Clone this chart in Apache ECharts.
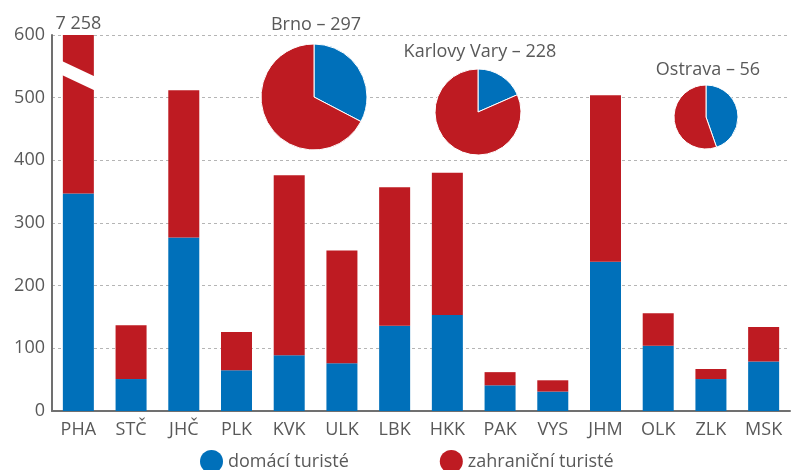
<!DOCTYPE html>
<html>
<head>
<meta charset="utf-8">
<script src="https://cdn.jsdelivr.net/npm/echarts@6/dist/echarts.min.js"></script>
<style>
  html, body { margin: 0; padding: 0; background: #fff; }
  #chart { width: 791px; height: 470px; }
</style>
</head>
<body>
<div id="chart"></div>
<script>
// kraje
const regions = ['PHA', 'STČ', 'JHČ', 'PLK', 'KVK', 'ULK', 'LBK', 'HKK', 'PAK', 'VYS', 'JHM', 'OLK', 'ZLK', 'MSK'];
// domácí / zahraniční turisté (tis.)
const domestic = [347, 51, 277, 65, 89, 76, 136, 153, 41, 31, 238, 104, 51, 79];
const foreign = [6911, 86, 235, 61, 287, 180, 221, 227, 21, 18, 266, 52, 16, 55];
const yTicks = [0, 100, 200, 300, 400, 500, 600];

// krajská města
const cities = ['Brno', 'Karlovy Vary', 'Ostrava'];
const cityDomestic = [97, 42, 25];
const cityForeign = [200, 186, 31];

const seriesNames = ['domácí turisté', 'zahraniční turisté'];
const BLUE = '#0070ba';
const RED = '#be1b22';
const TXT = '#595959';
const FONT = 'Open Sans';

const yMax = yTicks[yTicks.length - 1];
// PHA se nevejde -> useknout na max osy
const foreignShown = foreign.map((v, i) => Math.min(v, yMax - domestic[i]));
const totals = domestic.map((d, i) => d + foreign[i]);

const fmt = n => String(n).replace(/\B(?=(\d{3})+(?!\d))/g, ' ');

// rozložení koláčů (px)
const pieLayout = [
  {center: [314, 97], r: 53, title: [311, 11]},
  {center: [478, 112], r: 43, title: [475, 38]},
  {center: [706, 117], r: 32, title: [703, 56]}
];

const chart = echarts.init(document.getElementById('chart'));

const pieSeries = cities.map((c, i) => ({
  type: 'pie',
  name: c,
  center: pieLayout[i].center,
  radius: [0, pieLayout[i].r],
  startAngle: 90,
  clockwise: true,
  label: {show: false},
  labelLine: {show: false},
  silent: true,
  animation: false,
  itemStyle: {borderColor: '#fff', borderWidth: 1},
  data: [
    {name: seriesNames[0], value: cityDomestic[i], itemStyle: {color: BLUE}},
    {name: seriesNames[1], value: cityForeign[i], itemStyle: {color: RED}}
  ]
}));

const option = {
  animation: false,
  textStyle: {fontFamily: FONT},
  title: cities.map((c, i) => ({
    text: c + ' – ' + (cityDomestic[i] + cityForeign[i]),
    left: pieLayout[i].title[0],
    top: pieLayout[i].title[1],
    textAlign: 'center',
    textStyle: {color: TXT, fontSize: 18, fontWeight: 'normal', fontFamily: FONT}
  })),
  grid: {left: 52, right: 1, top: 35, bottom: 59},
  legend: {
    top: 445,
    left: 195,
    icon: 'circle',
    itemWidth: 23,
    itemHeight: 23,
    itemGap: 91,
    data: seriesNames,
    textStyle: {color: TXT, fontSize: 18, fontFamily: FONT}
  },
  xAxis: {
    type: 'category',
    data: regions,
    axisLine: {lineStyle: {color: '#707070', width: 2}},
    axisTick: {show: false},
    axisLabel: {color: TXT, fontSize: 18, margin: 10, fontFamily: FONT}
  },
  yAxis: {
    type: 'value',
    min: 0,
    max: yMax,
    interval: 100,
    axisLine: {show: true, lineStyle: {color: '#707070', width: 2}},
    axisTick: {show: false},
    axisLabel: {color: TXT, fontSize: 18, margin: 7, fontFamily: FONT},
    splitLine: {lineStyle: {color: '#b5b5b5', type: [3, 3], width: 1}}
  },
  series: [
    {
      name: seriesNames[0],
      type: 'bar',
      stack: 'total',
      barWidth: 31,
      itemStyle: {color: BLUE},
      data: domestic
    },
    {
      name: seriesNames[1],
      type: 'bar',
      stack: 'total',
      barWidth: 31,
      itemStyle: {color: RED},
      data: foreignShown.map((v, i) => ({
        value: v,
        label: {
          show: foreign[i] > v,
          position: 'top',
          distance: 2,
          color: TXT,
          fontSize: 18,
          fontFamily: FONT,
          formatter: () => fmt(totals[i])
        }
      }))
    }
  ].concat(pieSeries)
};

chart.setOption(option);

// přerušení sloupce PHA
const brk = chart.convertToPixel({xAxisIndex: 0, yAxisIndex: 0}, [regions[0], 535]);
chart.setOption({
  graphic: [{
    type: 'polygon',
    z: 100,
    shape: {
      points: [
        [brk[0] - 17, brk[1] - 15],
        [brk[0] + 17, brk[1] + 1],
        [brk[0] + 17, brk[1] + 15],
        [brk[0] - 17, brk[1] - 1]
      ]
    },
    style: {fill: '#fff'}
  }]
});
</script>
</body>
</html>
